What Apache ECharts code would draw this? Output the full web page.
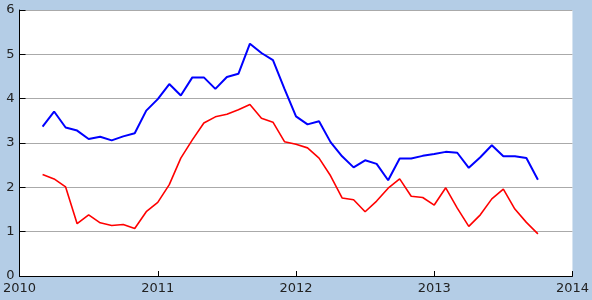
<!DOCTYPE html>
<html><head><meta charset="utf-8">
<script src="https://cdn.jsdelivr.net/npm/echarts@6/dist/echarts.min.js"></script>
<style>html,body{margin:0;padding:0;background:#b4cde6;}#c{width:592px;height:300px;}</style>
</head><body><div id="c"></div>
<script>
// months: March 2010 .. October 2013
const startYear = 2010, startMonth = 3;
const blueValues = [3.37,3.71,3.35,3.28,3.09,3.14,3.06,3.15,3.22,3.73,
  3.99,4.33,4.07,4.48,4.48,4.22,4.49,4.56,5.24,5.03,4.87,4.22,
  3.60,3.42,3.49,3.02,2.70,2.45,2.61,2.53,2.16,2.65,2.65,2.71,
  2.75,2.80,2.78,2.44,2.68,2.95,2.70,2.70,2.66,2.17];
const redValues = [2.29,2.19,2.01,1.18,1.38,1.20,1.14,1.16,1.07,1.45,
  1.66,2.06,2.66,3.07,3.45,3.59,3.65,3.75,3.87,3.56,3.47,3.03,
  2.97,2.89,2.66,2.26,1.76,1.72,1.45,1.69,1.98,2.19,1.80,1.77,
  1.60,1.99,1.53,1.12,1.38,1.74,1.96,1.51,1.21,0.95];
const yTicks = [0,1,2,3,4,5,6];
const xTicks = [2010,2011,2012,2013,2014];

function monthPos(i){ const m = startMonth - 1 + i; return startYear + Math.floor(m/12) + (m%12)/12; }
const blueData = blueValues.map((v,i)=>[monthPos(i), v]);
const redData = redValues.map((v,i)=>[monthPos(i), v]);

const chart = echarts.init(document.getElementById('c'), null, {renderer:'canvas'});
chart.setOption({
  backgroundColor:'#b4cde6',
  animation:false,
  grid:{left:17,right:19,top:10,bottom:24,show:true,backgroundColor:'#ffffff',borderWidth:0},
  xAxis:{type:'value',min:xTicks[0],max:xTicks[xTicks.length-1],interval:1,
    axisLine:{lineStyle:{color:'#000',width:1}},
    axisTick:{show:true,inside:true,length:5,lineStyle:{color:'#000'}},
    splitLine:{show:false},
    axisLabel:{color:'#222',fontFamily:'DejaVu Sans',fontSize:13,margin:6,formatter:v=>String(v)}},
  yAxis:{type:'value',min:yTicks[0],max:yTicks[yTicks.length-1],interval:1,
    axisLine:{show:true,lineStyle:{color:'#000',width:1}},
    axisTick:{show:true,inside:true,length:6,lineStyle:{color:'#000'}},
    splitLine:{show:true,lineStyle:{color:'#aaaaaa',width:1}},
    axisLabel:{color:'#222',fontFamily:'DejaVu Sans',fontSize:13,margin:5}},
  series:[
    {type:'line',data:blueData,showSymbol:false,lineStyle:{color:'#0000ff',width:2},itemStyle:{color:'#0000ff'},z:3},
    {type:'line',data:redData,showSymbol:false,lineStyle:{color:'#ff0000',width:1.6},itemStyle:{color:'#ff0000'},z:2}
  ]
});
</script></body></html>
